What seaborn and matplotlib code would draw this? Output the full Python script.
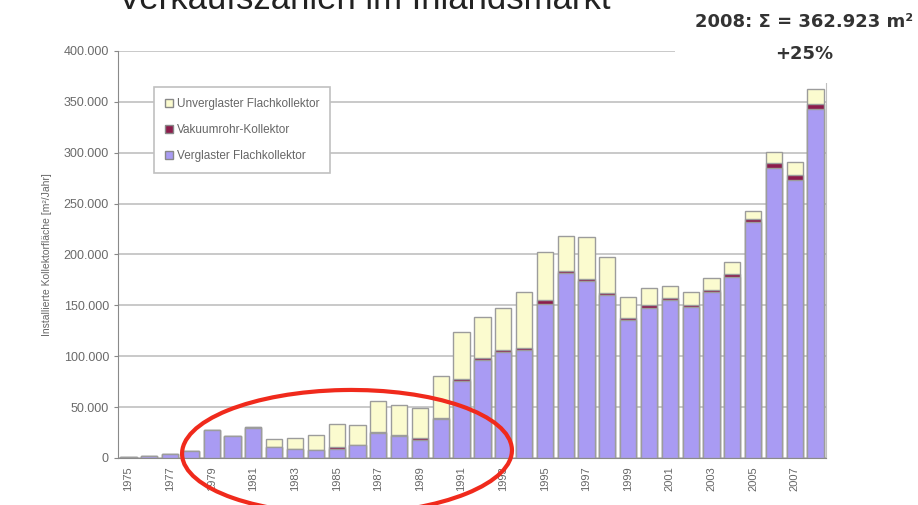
import seaborn as sns
import pandas as pd
import numpy as np
import matplotlib.pyplot as plt
from matplotlib.patches import Patch, Ellipse
from matplotlib.ticker import FuncFormatter

# Installierte Kollektorflaeche pro Jahr [m2]
jahre = list(range(1975, 2009))
verglast = [500, 1800, 3500, 7000, 27500, 21500, 29000, 10500, 8500, 7800,
            8500, 12500, 24500, 21800, 18000, 38500, 76000, 96500, 104500, 106000,
            151500, 181500, 173500, 160000, 135500, 147500, 155500, 148500, 163000, 177500,
            231500, 285500, 273500, 343000]
vakuum = [0, 0, 0, 0, 500, 500, 1000, 500, 500, 500,
          2500, 500, 1000, 800, 1500, 1000, 1500, 1500, 1500, 2000,
          3500, 2500, 2500, 2500, 2500, 2500, 2000, 1500, 2000, 3000,
          3500, 4000, 5000, 5000]
unverglast = [0, 0, 0, 0, 0, 0, 0, 7500, 10500, 14500,
              22500, 19500, 30500, 29500, 29500, 41000, 46000, 40500, 41000, 55000,
              47000, 34000, 41000, 35000, 20000, 17000, 11500, 13000, 12000, 12000,
              8000, 11000, 12000, 14923]

df = pd.DataFrame({"Jahr": [str(j) for j in jahre],
                   "Verglast": verglast, "Vakuum": vakuum, "Unverglast": unverglast})
df["bis_vakuum"] = df["Verglast"] + df["Vakuum"]
df["gesamt"] = df["bis_vakuum"] + df["Unverglast"]

c_blau = "#a99bf3"
c_vak = "#8c1c4c"
c_gelb = "#fbfbcf"
c_rand = "#9c9c9c"

sns.set_style("white")
plt.rcParams['font.family'] = ['Liberation Sans', 'DejaVu Sans']

fig = plt.figure(figsize=(9.18, 5.05), dpi=100)
ax = fig.add_axes([118/918, 47/505, 708/918, 407/505])

# gestapelt: Summen von hinten nach vorne zeichnen
sns.barplot(data=df, x="Jahr", y="gesamt", color=c_gelb, saturation=1, width=0.78,
            edgecolor=c_rand, linewidth=1, ax=ax, zorder=2)
sns.barplot(data=df, x="Jahr", y="bis_vakuum", color=c_vak, saturation=1, width=0.78,
            edgecolor=c_rand, linewidth=1, ax=ax, zorder=3)
sns.barplot(data=df, x="Jahr", y="Verglast", color=c_blau, saturation=1, width=0.78,
            edgecolor=c_rand, linewidth=1, ax=ax, zorder=4)

ax.set_ylim(0, 400000)
ax.set_xlim(-0.5, len(jahre) - 0.5)
ax.set_yticks(np.arange(0, 400001, 50000))
ax.yaxis.set_major_formatter(FuncFormatter(lambda v, p: "0" if v == 0 else f"{int(v):,}".replace(",", ".")))
ax.yaxis.grid(True, color="#c9c9c9", linewidth=1.4, zorder=0)
ax.set_axisbelow(True)

ticks = list(range(0, len(jahre), 2))
ax.set_xticks(ticks)
ax.set_xticklabels([df["Jahr"][i] for i in ticks], rotation=90, fontsize=8, color="#666")
ax.tick_params(axis="y", labelsize=9, labelcolor="#6a6a6a", length=3, color="#888", left=True)
ax.tick_params(axis="x", length=0, pad=6)
ax.set_xlabel("")
ax.set_ylabel("Installierte Kollektorfläche [m²/Jahr]", fontsize=7.5, color="#666", labelpad=8)

for s in ["top"]:
    ax.spines[s].set_visible(False)
ax.spines["left"].set_color("#8a8a8a")
ax.spines["bottom"].set_color("#8a8a8a")
ax.spines["right"].set_color("#c0c0c0")

handles = [Patch(facecolor=c_gelb, edgecolor="#888", label="Unverglaster Flachkollektor"),
           Patch(facecolor=c_vak, edgecolor="#888", label="Vakuumrohr-Kollektor"),
           Patch(facecolor=c_blau, edgecolor="#888", label="Verglaster Flachkollektor")]
leg = ax.legend(handles=handles, loc="upper left", bbox_to_anchor=(0.051, 0.911),
                borderaxespad=0, fontsize=8.5, labelspacing=1.2, handlelength=0.7,
                handleheight=0.7, handletextpad=0.3, fancybox=False, framealpha=1,
                borderpad=0.9, labelcolor="#666")
leg.get_frame().set_edgecolor("#c0c0c0")
leg.get_frame().set_linewidth(1.2)

fig.text(118/918, (505 - 9)/505, "Verkaufszahlen im Inlandsmarkt", fontsize=25,
         color="#222", ha="left", va="baseline")

fig.text(804/918, 1 - 38/505, "2008: Σ = 362.923 m²\n+25%", family=["DejaVu Sans"],
         fontweight="bold", fontsize=13, color="#333", ha="center", va="center",
         linespacing=2.0, bbox=dict(facecolor="white", edgecolor="none", pad=14))

fig.add_artist(Ellipse((347/918, 1 - 452/505), 330/918, 124/505, angle=2,
                       transform=fig.transFigure, fill=False, edgecolor="#f02a1c",
                       linewidth=3))

fig.savefig("out.png", dpi=100)
